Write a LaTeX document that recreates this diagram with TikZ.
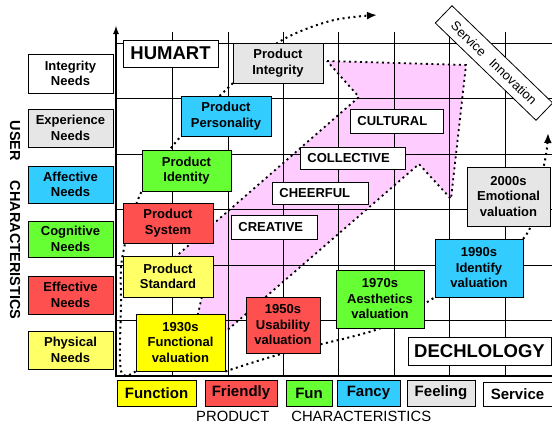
\documentclass[tikz,border=0pt]{standalone}
\usepackage{fontspec}
\setmainfont{Liberation Sans}
\usetikzlibrary{arrows.meta,backgrounds}
\definecolor{hyellow}{RGB}{255,255,0}
\definecolor{pyellow}{RGB}{255,255,102}
\definecolor{hred}{RGB}{255,80,80}
\definecolor{hgreen}{RGB}{102,255,51}
\definecolor{hcyan}{RGB}{51,204,255}
\definecolor{hgray}{RGB}{230,230,230}
\definecolor{hpink}{RGB}{255,204,255}

\begin{document}
\begin{tikzpicture}[x=1pt,y=-1pt,
    cell/.style={draw=black,line width=0.8pt,align=center,inner sep=0pt,
      font=\bfseries\fontsize{13}{15.5}\selectfont},
    word/.style={cell,fill=white,anchor=west,align=left,inner xsep=7pt,minimum height=24},
    big/.style={cell,fill=white,font=\bfseries\fontsize{18.5}{20}\selectfont},
    trail/.style={line width=2pt,dash pattern=on 2pt off 3.5pt},
    tip/.style={-{Latex[length=10pt,width=8pt]}}]
      \useasboundingbox (0,0) rectangle (552,426);
      % user characteristics
      \node[cell,fill=white,minimum width=85,minimum height=39] (intN) at (70.5,73.5) {Integrity\\Needs};
      \node[cell,fill=hgray,minimum width=85,minimum height=38] (expN) at (70.5,128) {Experience\\Needs};
      \node[cell,fill=hcyan,minimum width=85,minimum height=37] (affN) at (70.5,184.5) {Affective\\Needs};
      \node[cell,fill=hgreen,minimum width=85,minimum height=36] (cogN) at (70.5,239) {Cognitive\\Needs};
      \node[cell,fill=hred,minimum width=85,minimum height=38] (effN) at (70.5,295) {Effective\\Needs};
      \node[cell,fill=pyellow,minimum width=85,minimum height=38] (phyN) at (70.5,350) {Physical\\Needs};
      \node[rotate=-90,font=\bfseries\fontsize{14.5}{16}\selectfont] (userAx) at (15,220) {USER\hspace{20pt}CHARACTERISTICS};
      % product characteristics
      \node[cell,fill=hyellow,minimum width=79,minimum height=26,font=\bfseries\fontsize{15}{17}\selectfont] (pFunction) at (156.5,393) {Function};
      \node[cell,fill=hred,minimum width=72,minimum height=26,font=\bfseries\fontsize{15}{17}\selectfont] (pFriendly) at (241,393) {Friendly};
      \node[cell,fill=hgreen,minimum width=46,minimum height=26,font=\bfseries\fontsize{15}{17}\selectfont] (pFun) at (309,393) {Fun};
      \node[cell,fill=hcyan,minimum width=63,minimum height=26,font=\bfseries\fontsize{15}{17}\selectfont] (pFancy) at (368.5,393) {Fancy};
      \node[cell,fill=hgray,minimum width=68,minimum height=26,font=\bfseries\fontsize{15}{17}\selectfont] (pFeeling) at (441,393) {Feeling};
      \node[cell,fill=white,minimum width=69,minimum height=24,font=\bfseries\fontsize{15}{17}\selectfont] (pService) at (517.5,394) {Service};
      \node[anchor=west,inner sep=0pt,font=\fontsize{14.8}{17}\selectfont] (prodAx) at (196,416) {PRODUCT\hspace{22pt}CHARACTERISTICS};
      % corners
      \node[big,minimum width=95,minimum height=27] (humart) at (170.5,53.5) {HUMART};
      \node[big,minimum width=143,minimum height=28] (dech) at (479.5,351) {DECHLOLOGY};
      \node[cell,fill=white,rotate=-44,minimum width=140,minimum height=24,font=\fontsize{13}{15}\selectfont] (servInno) at (494,63) {Service\hspace{10pt}Innovation};
      % product steps
      \node[cell,fill=hgray,minimum width=90,minimum height=40] (integ) at (278,63) {Product\\Integrity};
      \node[cell,fill=hcyan,minimum width=90,minimum height=40] (pers) at (226,116) {Product\\Personality};
      \node[cell,fill=hgreen,minimum width=89,minimum height=41] (ident) at (186.5,170.5) {Product\\Identity};
      \node[cell,fill=hred,minimum width=90,minimum height=40] (sys) at (168,223) {Product\\System};
      \node[cell,fill=pyellow,minimum width=90,minimum height=41] (std) at (168,276.5) {Product\\Standard};
      % valuations
      \node[cell,fill=hyellow,minimum width=89,minimum height=57] (f1930) at (180.5,342.5) {1930s\\Functional\\valuation};
      \node[cell,fill=hred,minimum width=74,minimum height=56] (u1950) at (283,325) {1950s\\Usability\\valuation};
      \node[cell,fill=hgreen,minimum width=88,minimum height=58] (a1970) at (380,299) {1970s\\Aesthetics\\valuation};
      \node[cell,fill=hcyan,minimum width=88,minimum height=58] (i1990) at (479,268) {1990s\\Identify\\valuation};
      \node[cell,fill=hgray,minimum width=83,minimum height=59] (e2000) at (508.5,196.5) {2000s\\Emotional\\valuation};
      % culture words
      \node[word,text width=79] (cultural) at (350,121.5) {CULTURAL};
      \node[word,text width=91,minimum height=22] (collective) at (300,158) {COLLECTIVE};
      \node[word,text width=82,minimum height=22] (cheerful) at (272,193) {CHEERFUL};
      \node[word,text width=72] (creative) at (231,227.5) {CREATIVE};
      \coordinate (topEnd) at (377,15);
      \coordinate (rightEnd) at (548,133);
      \begin{scope}[on background layer]
        \fill[hpink] (327,61) -- (466,65) -- (451,199) -- (419,164) -- (186,366) -- (203,292) -- (165,266) -- (359,97) -- cycle;
        \draw[line width=0.8pt] (172.5,32) -- (172.5,376) (227.9,32) -- (227.9,376) (283.3,32) -- (283.3,376)
          (338.7,32) -- (338.7,376) (394.1,32) -- (394.1,376) (449.5,32) -- (449.5,376) (504.9,32) -- (504.9,376);
        \draw[line width=0.8pt] (116,43) -- (552,43) (116,98.5) -- (552,98.5) (116,154) -- (552,154)
          (116,209.5) -- (552,209.5) (116,265) -- (552,265) (116,320.5) -- (552,320.5);
        \draw[trail,line width=1.8pt] (327,61) -- (466,65) -- (451,199) -- (419,164) -- (186,366) -- (203,292) -- (165,266) -- (359,97) -- cycle;
        \draw[line width=2pt,-{Latex[length=9pt,width=6pt]}] (116,377) -- (116,25);
        \draw[line width=2pt] (115,376) -- (552,376);
        \draw[trail,tip] plot[smooth,tension=0.55] coordinates {(f1930.south west) (121,371) (121,305)
          (std.north west) (ident.south west) (pers.south west) (integ.south west) (integ.north) (330,21) (topEnd)};
        \draw[trail,tip] plot[smooth,tension=0.55] coordinates {(f1930.south east) (u1950.south) (a1970.south)
          (i1990.south west) (i1990.north east) (544,165) (rightEnd)};
      \end{scope}
    \end{tikzpicture}
\end{document}
